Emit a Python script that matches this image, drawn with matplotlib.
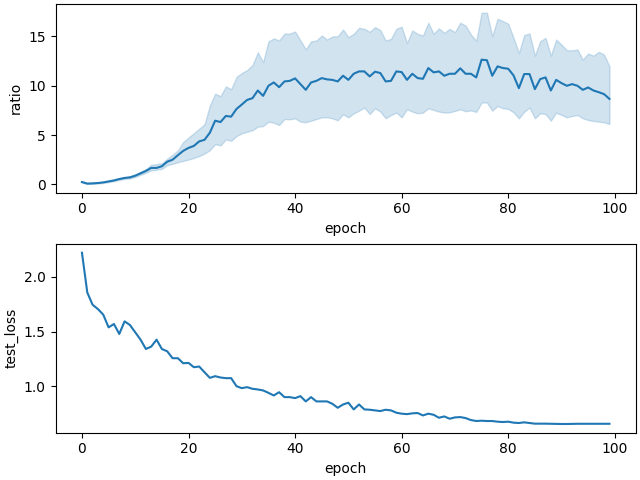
import matplotlib
matplotlib.use("Agg")
import matplotlib.pyplot as plt
import numpy as np

epochs = np.arange(100)

# ratio: mean with confidence band
ratio_mean = [
    0.24, 0.08, 0.10, 0.14, 0.20, 0.30, 0.40, 0.54, 0.65, 0.71,
    0.88, 1.12, 1.36, 1.67, 1.67, 1.84, 2.30, 2.50, 2.96, 3.40,
    3.70, 3.90, 4.36, 4.52, 5.24, 6.46, 6.32, 6.94, 6.87, 7.65,
    8.10, 8.57, 8.74, 9.52, 8.98, 10.00, 10.34, 9.86, 10.44, 10.50,
    10.75, 10.17, 9.59, 10.34, 10.50, 10.78, 10.65, 10.60, 10.44, 11.02,
    10.60, 11.22, 11.46, 11.46, 10.95, 11.43, 11.29, 10.44, 10.50, 11.46,
    11.39, 10.60, 11.22, 10.78, 10.71, 11.80, 11.36, 11.46, 11.02, 11.22,
    11.22, 11.77, 11.22, 11.22, 10.85, 12.65, 12.59, 11.02, 11.97, 11.80,
    11.73, 11.05, 9.76, 11.19, 11.19, 9.66, 10.68, 10.85, 9.52, 10.60,
    10.27, 10.00, 10.17, 10.00, 9.59, 9.83, 9.52, 9.35, 9.15, 8.67,
]
ratio_upper = [
    0.30, 0.13, 0.15, 0.19, 0.26, 0.37, 0.48, 0.63, 0.75, 0.83,
    1.02, 1.28, 1.56, 2.00, 2.05, 2.15, 2.60, 3.00, 3.45, 4.30,
    4.75, 5.20, 5.65, 6.10, 8.00, 9.20, 8.95, 9.93, 9.66, 10.90,
    11.30, 11.60, 12.10, 13.40, 12.40, 14.50, 14.80, 14.60, 15.30, 15.30,
    15.50, 14.60, 13.70, 14.50, 14.60, 15.10, 14.70, 15.00, 15.03, 15.71,
    14.93, 15.27, 15.88, 15.78, 15.47, 15.95, 15.65, 14.59, 14.76, 15.78,
    15.99, 14.35, 15.61, 15.27, 15.10, 16.40, 15.27, 15.82, 15.37, 15.78,
    15.44, 16.40, 16.10, 15.20, 14.55, 17.41, 17.41, 15.03, 16.80, 16.56,
    16.29, 14.86, 13.33, 15.14, 15.31, 13.06, 14.52, 14.86, 13.06, 14.69,
    14.18, 13.60, 13.60, 13.67, 12.65, 13.27, 13.06, 13.44, 13.16, 11.97,
]
ratio_lower = [
    0.18, 0.04, 0.06, 0.09, 0.14, 0.23, 0.32, 0.45, 0.55, 0.60,
    0.75, 0.97, 1.18, 1.42, 1.48, 1.58, 1.95, 2.08, 2.25, 2.38,
    2.52, 2.68, 2.88, 3.13, 3.47, 4.08, 3.95, 4.56, 4.42, 4.90,
    5.17, 5.34, 5.50, 5.85, 5.92, 6.36, 6.26, 6.02, 6.63, 6.60,
    6.70, 6.36, 6.30, 6.46, 6.63, 6.80, 6.80, 6.70, 6.50, 7.11,
    6.80, 7.21, 7.48, 7.79, 7.14, 7.72, 7.38, 6.70, 7.04, 7.28,
    6.80, 7.62, 7.38, 7.21, 7.28, 7.72, 7.55, 7.38, 7.28, 7.31,
    7.45, 7.62, 7.42, 7.50, 7.35, 8.30, 8.30, 7.48, 7.96, 7.72,
    7.65, 7.31, 6.70, 7.38, 7.79, 6.70, 7.21, 7.14, 6.46, 7.28,
    7.04, 6.80, 6.94, 7.04, 6.70, 6.53, 6.43, 6.36, 6.29, 6.12,
]

test_loss = [
    2.220, 1.857, 1.745, 1.706, 1.655, 1.539, 1.570, 1.479, 1.594, 1.561,
    1.494, 1.427, 1.342, 1.364, 1.427, 1.342, 1.321, 1.258, 1.258, 1.212,
    1.215, 1.176, 1.182, 1.130, 1.079, 1.094, 1.082, 1.076, 1.076, 1.003,
    0.985, 0.994, 0.979, 0.973, 0.964, 0.942, 0.918, 0.948, 0.903, 0.903,
    0.894, 0.912, 0.864, 0.903, 0.864, 0.864, 0.864, 0.842, 0.806, 0.836,
    0.852, 0.791, 0.836, 0.791, 0.788, 0.782, 0.776, 0.788, 0.782, 0.761,
    0.752, 0.748, 0.755, 0.758, 0.736, 0.752, 0.742, 0.715, 0.727, 0.706,
    0.718, 0.721, 0.712, 0.694, 0.685, 0.688, 0.685, 0.685, 0.679, 0.676,
    0.679, 0.670, 0.667, 0.673, 0.667, 0.661, 0.661, 0.661, 0.660, 0.659,
    0.658, 0.658, 0.659, 0.660, 0.660, 0.660, 0.660, 0.660, 0.660, 0.660,
]

fig, (ax1, ax2) = plt.subplots(2, 1, figsize=(6.4, 4.8), dpi=100,
                               layout="constrained")

ax1.fill_between(epochs, ratio_lower, ratio_upper, color="C0", alpha=0.2)
ax1.plot(epochs, ratio_mean, color="C0", linewidth=1.5)
ax1.set_xlabel("epoch")
ax1.set_ylabel("ratio")

ax2.plot(epochs, test_loss, color="C0", linewidth=1.5)
ax2.set_xlabel("epoch")
ax2.set_ylabel("test_loss")

fig.savefig("out.png")
